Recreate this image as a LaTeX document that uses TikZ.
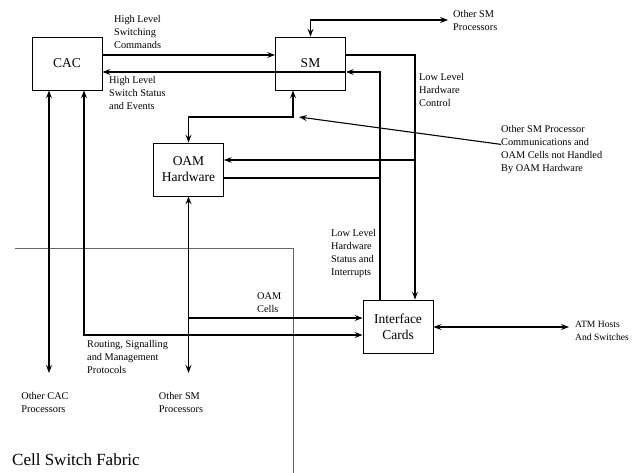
\documentclass[tikz,border=0pt]{standalone}
\usepackage{fontspec}
\setmainfont{Liberation Serif}
\usetikzlibrary{arrows.meta,calc}
\tikzset{
  box/.style={draw,line width=0.9pt,minimum width=70pt,minimum height=53pt,align=center,
    inner sep=1pt,font=\fontsize{13.5}{16}\selectfont},
  lbl/.style={inner sep=0pt,align=left,font=\fontsize{10.3}{13}\selectfont},
  wire/.style={line width=1.1pt,-{Stealth[length=8pt,width=6pt,inset=3pt]}},
  wire2/.style={line width=1.1pt,{Stealth[length=8pt,width=6pt,inset=3pt]}-{Stealth[length=8pt,width=6pt,inset=3pt]}},
  plain/.style={line width=1.1pt},
  fabric/.style={line width=0.6pt,black!60}
}

\begin{document}
\begin{tikzpicture}[x=1pt,y=-1pt]
    \useasboundingbox (0,0) rectangle (632,473);
    % boxes
    \node[box] (cac) at (67,63.5) {CAC};
    \node[box] (sm) at (310.5,63.5) {SM};
    \node[box] (oam) at (188.5,169.5) {OAM\\Hardware};
    \node[box] (ifc) at (398,326.5) {Interface\\Cards};
    % fabric boundary
    \draw[fabric] (15,248) -- (293,248) -- (293,473);
    \node[anchor=west,inner sep=0pt,font=\fontsize{17}{20}\selectfont] (csf) at (12,460) {Cell Switch Fabric};
    % CAC <-> SM
    \draw[wire] ([yshift=8.5pt]cac.east) -- ([yshift=8.5pt]sm.west);
    \draw[wire] ([yshift=-8.5pt]sm.east) -- ([yshift=-8.5pt]cac.east);
    \node[lbl,anchor=north west] (hlc) at (114,15) {High Level\\Switching\\Commands};
    \node[lbl,anchor=north west] (hls) at (109,76) {High Level\\Switch Status\\and Events};
    % SM to other SM processors
    \coordinate (osmt) at (448,20);
    \draw[wire2] (sm.north) |- (osmt);
    \node[lbl,anchor=west] (osm1) at (453,20) {Other SM\\Processors};
    % low level control and status
    \draw[wire] ([yshift=8.5pt]sm.east) -| ([xshift=17pt]ifc.north);
    \draw[wire] ([xshift=-18pt]ifc.north) |- ([yshift=-8.5pt]sm.east);
    \coordinate (ctl) at (415,160);
    \draw[wire] (ctl) -- (oam.east |- ctl);
    \coordinate (sts) at (380,178);
    \draw[plain] (oam.east |- sts) -- (sts);
    \node[lbl,anchor=north west] (llc) at (419,73) {Low Level\\Hardware\\Control};
    \node[lbl,anchor=north west] (lls) at (331,229) {Low Level\\Hardware\\Status and\\Interrupts};
    % SM <-> OAM
    \coordinate (bend) at (293,117);
    \draw[wire2] (bend |- sm.south) -- (bend) -| (oam.north);
    \node[lbl,anchor=north west] (osmc) at (501,125) {Other SM Processor\\Communications and\\OAM Cells not Handled\\By OAM Hardware};
    \draw[wire] ([yshift=5pt]osmc.west) -- ([xshift=6pt]bend);
    % CAC downwards
    \coordinate (occ) at (49,373);
    \draw[wire2] ([xshift=-18pt]cac.south) -- (occ);
    \node[lbl,anchor=north] (occl) at (45,392) {Other CAC\\Processors};
    \draw[wire2] ([xshift=17pt]cac.south) |- ([yshift=-8.5pt]ifc.west);
    \node[lbl,anchor=north west] (rsm) at (87,340) {Routing, Signalling\\and Management\\Protocols};
    % OAM downwards
    \coordinate (osmb) at (188.5,373);
    \draw[wire2] (oam.south) -- (osmb);
    \coordinate (cellj) at (188.5,318);
    \draw[wire] (cellj) -- (cellj -| ifc.west);
    \node[lbl,anchor=north west] (oamc) at (257,292) {OAM\\Cells};
    \node[lbl,anchor=north] (osm2) at (181,392) {Other SM\\Processors};
    % ATM side
    \coordinate (atm) at (569,327);
    \draw[wire2] (ifc.east |- atm) -- (atm);
    \node[lbl,anchor=west,font=\fontsize{9.6}{12.5}\selectfont] (atml) at (575,331) {ATM Hosts\\And Switches};
\end{tikzpicture}
\end{document}
